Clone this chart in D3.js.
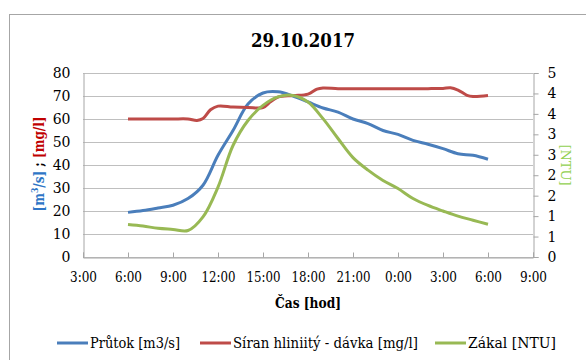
<!DOCTYPE html>
<html>
<head>
<meta charset="utf-8">
<script src="https://cdn.jsdelivr.net/npm/d3@7"></script>
<style>
  body { margin: 0; background: #fff; }
</style>
</head>
<body>
<script>
// hours counted from 0:00 on 29.10.2017
let xTicks = [3, 6, 9, 12, 15, 18, 21, 24, 27, 30, 33]
let leftTicks = [0, 10, 20, 30, 40, 50, 60, 70, 80]
let rightTicks = d3.range(10).map(i => 5 * i / 9)

let flowHours = d3.range(6, 31)
let flowValues = [19.4, 20.2, 21.3, 22.5, 25.4, 31.2, 44.2, 55, 66.5, 71.3, 71.8, 70, 67.4,
                  64.8, 63, 60, 58, 55, 53.3, 50.7, 49, 47.1, 44.9, 44.2, 42.5]

let doseHours = [6, 7, 8, 9, 10, 10.6, 11, 11.5, 12, 13, 14, 15, 15.5, 16, 17, 18, 18.6, 19, 20,
                 21, 22, 23, 24, 25, 26, 27, 27.5, 28, 28.6, 29, 30]
let doseValues = [60, 60, 60, 60, 60, 59.4, 60.2, 64, 65.6, 65.2, 65, 65, 67.5, 69.5, 70.2, 70.8,
                  73, 73.5, 73.2, 73.2, 73.2, 73.2, 73.2, 73.2, 73.2, 73.3, 73.6, 72.6, 70.3, 69.8, 70.2]

let turbHours = d3.range(6, 31)
let turbValues = [0.88, 0.84, 0.78, 0.75, 0.72, 1.09, 1.9, 3.03, 3.71, 4.12, 4.35, 4.39, 4.21,
                  3.76, 3.22, 2.70, 2.36, 2.08, 1.86, 1.59, 1.40, 1.25, 1.11, 1.00, 0.89]

let seriesNames = ["Průtok [m3/s]", "Síran hliniitý - dávka [mg/l]", "Zákal [NTU]"]
let colors = ["#4a7ebb", "#be4b48", "#98b954"]

let W = 586, H = 360
let pLeft = 83, pRight = 533, pTop = 73, pBottom = 257
let serif = "'DejaVu Serif', serif"

let svg = d3.select("body").append("svg").attr("width", W).attr("height", H)
  .style("font-family", serif)

// outer chart frame (cut by the picture on the right and bottom)
svg.append("rect").attr("x", 9.5).attr("y", 14.5).attr("width", 600).attr("height", 400)
  .attr("fill", "none").attr("stroke", "#a6a6a6")

let x = d3.scaleLinear().domain([3, 33]).range([pLeft, pRight])
let yL = d3.scaleLinear().domain([0, 80]).range([pBottom, pTop])
let yR = d3.scaleLinear().domain([0, 5]).range([pBottom, pTop])

svg.append("text").attr("x", 303).attr("y", 47).attr("text-anchor", "middle")
  .attr("font-size", 18).attr("font-weight", "bold")
  .attr("textLength", 104).attr("lengthAdjust", "spacingAndGlyphs").text("29.10.2017")

// gridlines
svg.append("g").selectAll("line").data(leftTicks).join("line")
  .attr("x1", pLeft).attr("x2", pRight)
  .attr("y1", d => Math.round(yL(d)) + 0.5).attr("y2", d => Math.round(yL(d)) + 0.5)
  .attr("stroke", "#bfbfbf")

function styleAxis(g) {
  g.attr("font-family", null).attr("font-size", null)
  g.select(".domain").attr("stroke", "#a6a6a6")
  g.selectAll("line").attr("stroke", "#a6a6a6")
  g.selectAll("text").attr("font-size", 14).attr("fill", "#000")
}

// left axis
svg.append("g").attr("transform", `translate(${pLeft + 0.5},0)`)
  .call(d3.axisLeft(yL).tickValues(leftTicks).tickSize(0).tickPadding(13))
  .call(styleAxis)

// right axis
svg.append("g").attr("transform", `translate(${pRight + 0.5},0)`)
  .call(d3.axisRight(yR).tickValues(rightTicks).tickFormat(d3.format(".0f")).tickSizeOuter(0).tickSize(5).tickPadding(9))
  .call(styleAxis)

// bottom axis
svg.append("g").attr("transform", `translate(0,${pBottom + 0.5})`)
  .call(d3.axisBottom(x).tickValues(xTicks).tickFormat(h => (h % 24) + ":00").tickSizeOuter(0).tickSize(-5).tickPadding(15))
  .call(styleAxis)
  .selectAll("text").attr("textLength", 34).attr("lengthAdjust", "spacingAndGlyphs")
  .filter(h => (h % 24) < 10).attr("textLength", 27)

// axis titles
let lt = svg.append("text").attr("transform", "translate(44,164) rotate(-90)")
  .attr("text-anchor", "middle").attr("font-size", 14).attr("font-weight", "bold")
  .attr("textLength", 95).attr("lengthAdjust", "spacingAndGlyphs")
lt.append("tspan").attr("fill", "#2e75c6").text("[m")
lt.append("tspan").attr("fill", "#2e75c6").attr("font-size", 9).attr("dy", -6).text("3")
lt.append("tspan").attr("fill", "#2e75c6").attr("dy", 6).text("/s]")
lt.append("tspan").attr("fill", "#000").text(" ; ")
lt.append("tspan").attr("fill", "#c00000").text("[mg/l]")

svg.append("text").attr("transform", "translate(561,165) rotate(90)")
  .attr("text-anchor", "middle").attr("font-size", 13).attr("fill", "#92d050").text("[NTU]")

svg.append("text").attr("x", 308).attr("y", 308).attr("text-anchor", "middle")
  .attr("font-size", 14).attr("font-weight", "bold")
  .attr("textLength", 66).attr("lengthAdjust", "spacingAndGlyphs").text("Čas [hod]")

// series
let curve = d3.curveCatmullRom.alpha(0.5)
let series = [
  {hours: flowHours, values: flowValues, y: yL},
  {hours: doseHours, values: doseValues, y: yL},
  {hours: turbHours, values: turbValues, y: yR}
]
series.forEach((s, i) => {
  let line = d3.line().x(d => x(d[0])).y(d => s.y(d[1])).curve(curve)
  svg.append("path").datum(s.hours.map((h, j) => [h, s.values[j]]))
    .attr("d", line).attr("fill", "none").attr("stroke", colors[i])
    .attr("stroke-width", 3).attr("stroke-linejoin", "round")
})

// legend
let legendX = [57, 200, 435]
let legendLen = [90, 185, 88]
let lg = svg.append("g").selectAll("g").data(seriesNames).join("g")
  .attr("transform", (d, i) => `translate(${legendX[i]},343)`)
lg.append("line").attr("x1", 0).attr("x2", 31).attr("stroke", (d, i) => colors[i]).attr("stroke-width", 3)
lg.append("text").attr("x", 33).attr("y", 5).attr("font-size", 14)
  .attr("textLength", (d, i) => legendLen[i]).attr("lengthAdjust", "spacingAndGlyphs").text(d => d)
</script>
</body>
</html>
